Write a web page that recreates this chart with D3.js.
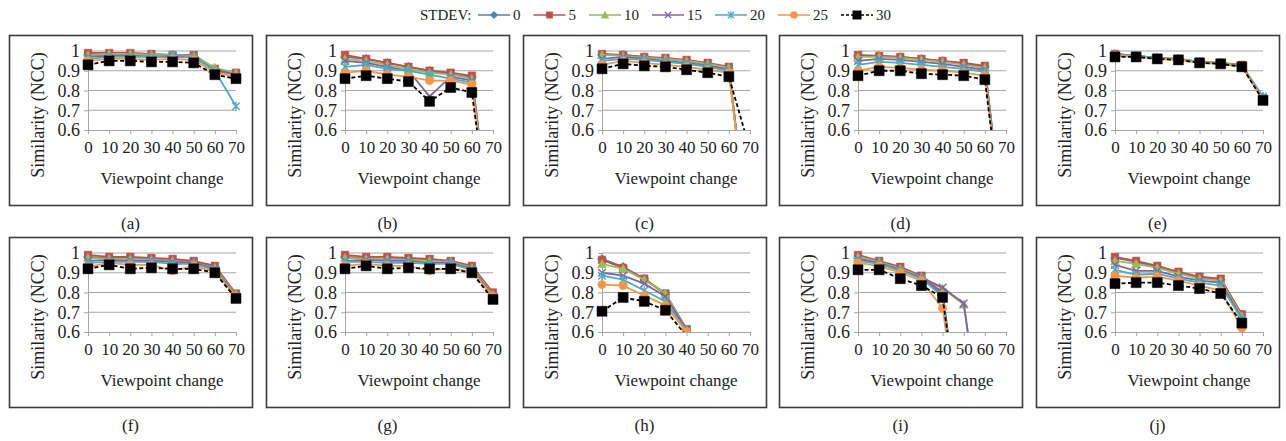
<!DOCTYPE html>
<html>
<head>
<meta charset="utf-8">
<script src="https://cdn.jsdelivr.net/npm/d3@7"></script>
<style>
  body { margin: 0; background: #fff; }
  svg { display: block; }
  svg text { font-family: "Liberation Serif", "Times New Roman", serif; }
</style>
</head>
<body>
<div id="container"></div>
<script>
const viewpoints = [0, 10, 20, 30, 40, 50, 60, 70];
const stdevs = [0, 5, 10, 15, 20, 25, 30];
const yTicks = [0.6, 0.7, 0.8, 0.9, 1];
const panelLabels = ["(a)", "(b)", "(c)", "(d)", "(e)", "(f)", "(g)", "(h)", "(i)", "(j)"];

// one row per STDEV series (0,5,10,15,20,25,30), one value per viewpoint
const panelA = [
  [0.98, 0.98, 0.98, 0.98, 0.98, 0.97, 0.91, 0.88],
  [0.99, 0.99, 0.99, 0.985, 0.98, 0.98, 0.91, 0.89],
  [0.98, 0.985, 0.985, 0.98, 0.98, 0.975, 0.915, 0.89],
  [0.97, 0.975, 0.975, 0.97, 0.97, 0.97, 0.90, 0.88],
  [0.96, 0.97, 0.97, 0.97, 0.98, 0.97, 0.90, 0.72],
  [0.95, 0.96, 0.96, 0.955, 0.96, 0.955, 0.89, 0.87],
  [0.93, 0.95, 0.95, 0.945, 0.945, 0.94, 0.88, 0.86]
];
const panelB = [
  [0.97, 0.96, 0.94, 0.92, 0.90, 0.88, 0.87, 0],
  [0.98, 0.96, 0.94, 0.92, 0.90, 0.89, 0.875, 0],
  [0.96, 0.95, 0.93, 0.91, 0.89, 0.88, 0.86, 0],
  [0.95, 0.94, 0.92, 0.90, 0.77, 0.87, 0.85, 0],
  [0.92, 0.93, 0.91, 0.90, 0.88, 0.86, 0.84, 0],
  [0.89, 0.90, 0.88, 0.87, 0.85, 0.85, 0.83, 0],
  [0.86, 0.875, 0.86, 0.845, 0.745, 0.815, 0.79, 0]
];
const panelC = [
  [0.98, 0.98, 0.97, 0.96, 0.95, 0.93, 0.91, 0],
  [0.985, 0.98, 0.97, 0.965, 0.955, 0.94, 0.92, 0],
  [0.98, 0.975, 0.965, 0.96, 0.95, 0.935, 0.915, 0],
  [0.96, 0.97, 0.96, 0.95, 0.94, 0.925, 0.905, 0],
  [0.95, 0.96, 0.955, 0.945, 0.935, 0.92, 0.90, 0],
  [0.93, 0.95, 0.94, 0.93, 0.92, 0.905, 0.89, 0],
  [0.91, 0.935, 0.925, 0.92, 0.905, 0.89, 0.87, 0.5]
];
const panelD = [
  [0.975, 0.975, 0.97, 0.96, 0.95, 0.935, 0.92, 0],
  [0.98, 0.975, 0.97, 0.96, 0.95, 0.94, 0.925, 0],
  [0.97, 0.97, 0.965, 0.955, 0.945, 0.93, 0.915, 0],
  [0.95, 0.96, 0.955, 0.945, 0.935, 0.92, 0.905, 0],
  [0.93, 0.945, 0.94, 0.93, 0.92, 0.91, 0.895, 0],
  [0.90, 0.92, 0.915, 0.905, 0.90, 0.89, 0.875, 0],
  [0.875, 0.90, 0.90, 0.885, 0.88, 0.875, 0.855, 0]
];
const panelE = [
  [0.985, 0.975, 0.965, 0.96, 0.945, 0.94, 0.925, 0.765],
  [0.985, 0.975, 0.965, 0.96, 0.945, 0.94, 0.93, 0.76],
  [0.98, 0.975, 0.965, 0.96, 0.945, 0.94, 0.925, 0.765],
  [0.98, 0.975, 0.965, 0.955, 0.945, 0.935, 0.925, 0.76],
  [0.98, 0.975, 0.965, 0.955, 0.945, 0.935, 0.925, 0.77],
  [0.975, 0.97, 0.96, 0.955, 0.94, 0.935, 0.92, 0.755],
  [0.97, 0.97, 0.96, 0.955, 0.94, 0.935, 0.92, 0.75]
];
const panelF = [
  [0.98, 0.975, 0.975, 0.97, 0.965, 0.955, 0.93, 0.79],
  [0.99, 0.98, 0.98, 0.975, 0.97, 0.96, 0.935, 0.795],
  [0.975, 0.97, 0.97, 0.965, 0.96, 0.95, 0.925, 0.79],
  [0.96, 0.965, 0.96, 0.96, 0.955, 0.95, 0.92, 0.785],
  [0.95, 0.955, 0.955, 0.955, 0.945, 0.945, 0.915, 0.78],
  [0.93, 0.95, 0.94, 0.94, 0.91, 0.935, 0.905, 0.78],
  [0.92, 0.94, 0.92, 0.925, 0.92, 0.92, 0.90, 0.77]
];
const panelG = [
  [0.98, 0.975, 0.97, 0.97, 0.965, 0.955, 0.93, 0.795],
  [0.99, 0.98, 0.98, 0.975, 0.97, 0.96, 0.935, 0.80],
  [0.975, 0.97, 0.97, 0.965, 0.96, 0.955, 0.925, 0.79],
  [0.96, 0.965, 0.96, 0.96, 0.95, 0.95, 0.92, 0.785],
  [0.955, 0.955, 0.95, 0.95, 0.945, 0.945, 0.915, 0.78],
  [0.935, 0.945, 0.935, 0.935, 0.91, 0.925, 0.905, 0.78],
  [0.92, 0.935, 0.92, 0.925, 0.92, 0.92, 0.90, 0.765]
];
const panelH = [
  [0.97, 0.93, 0.87, 0.79, 0.61, null, null, null],
  [0.965, 0.925, 0.87, 0.795, 0.615, null, null, null],
  [0.945, 0.92, 0.865, 0.795, 0.61, null, null, null],
  [0.90, 0.885, 0.845, 0.78, 0.61, null, null, null],
  [0.885, 0.865, 0.81, 0.755, 0.605, null, null, null],
  [0.84, 0.835, 0.785, 0.735, 0.60, null, null, null],
  [0.705, 0.775, 0.755, 0.71, 0.58, null, null, null]
];
const panelI = [
  [0.975, 0.95, 0.92, 0.875, 0.79, 0, null, null],
  [0.99, 0.96, 0.93, 0.885, 0.80, 0, null, null],
  [0.98, 0.955, 0.92, 0.88, 0.82, 0.74, 0, null],
  [0.97, 0.95, 0.915, 0.875, 0.825, 0.745, 0, null],
  [0.96, 0.945, 0.91, 0.87, 0.78, 0, null, null],
  [0.95, 0.935, 0.90, 0.86, 0.72, 0, null, null],
  [0.915, 0.915, 0.87, 0.835, 0.775, 0, null, null]
];
const panelJ = [
  [0.975, 0.955, 0.93, 0.90, 0.875, 0.865, 0.685, null],
  [0.98, 0.96, 0.935, 0.905, 0.88, 0.87, 0.69, null],
  [0.96, 0.945, 0.925, 0.895, 0.87, 0.86, 0.68, null],
  [0.94, 0.91, 0.91, 0.88, 0.86, 0.85, 0.67, null],
  [0.915, 0.89, 0.895, 0.87, 0.85, 0.835, 0.665, null],
  [0.885, 0.875, 0.88, 0.86, 0.835, 0.81, 0.62, null],
  [0.845, 0.85, 0.85, 0.835, 0.82, 0.795, 0.645, null]
];
const panels = [panelA, panelB, panelC, panelD, panelE, panelF, panelG, panelH, panelI, panelJ];

const color = d3.scaleOrdinal()
  .domain(stdevs)
  .range(["#4F81BD", "#C0504D", "#9BBB59", "#8064A2", "#4BACC6", "#F79646", "#000000"]);
const shape = d3.scaleOrdinal()
  .domain(stdevs)
  .range(["diamond", "square", "triangle", "x", "star", "circle", "bigsquare"]);

function markerPath(kind) {
  const s = 3.8;
  switch (kind) {
    case "diamond": return `M0,${-s - 0.7}L${s + 0.7},0L0,${s + 0.7}L${-s - 0.7},0Z`;
    case "square": return `M${-s},${-s}H${s}V${s}H${-s}Z`;
    case "bigsquare": return `M-5,-5H5V5H-5Z`;
    case "triangle": return `M0,${-s - 0.7}L${s + 0.7},${s}L${-s - 0.7},${s}Z`;
    case "x": return `M${-s},${-s}L${s},${s}M${-s},${s}L${s},${-s}`;
    case "star": return `M${-s},${-s}L${s},${s}M${-s},${s}L${s},${-s}M0,${-s - 0.7}V${s + 0.7}`;
    case "circle": return d3.symbol(d3.symbolCircle, 56)();
  }
}
const strokeOnly = k => k === "x" || k === "star";

const svg = d3.select("#container").append("svg")
  .attr("width", 1286)
  .attr("height", 441);

// legend
const legend = svg.append("g").attr("transform", "translate(420,15)");
legend.append("text")
  .attr("x", 0).attr("dy", "0.35em")
  .attr("font-size", 15).attr("fill", "#222")
  .text("STDEV:");
let lx = 58;
stdevs.forEach(s => {
  const k = shape(s);
  legend.append("line")
    .attr("x1", lx).attr("x2", lx + 32)
    .attr("stroke", color(s)).attr("stroke-width", 1.5)
    .attr("stroke-dasharray", s === 30 ? "3,2" : null);
  legend.append("path")
    .attr("transform", `translate(${lx + 16},0) scale(0.85)`)
    .attr("d", markerPath(k))
    .attr("fill", strokeOnly(k) ? "none" : color(s))
    .attr("stroke", color(s)).attr("stroke-width", strokeOnly(k) ? 1.4 : 0.5);
  const t = legend.append("text")
    .attr("x", lx + 35).attr("dy", "0.35em")
    .attr("font-size", 15).attr("fill", "#222")
    .text(s);
  lx += 35 + t.node().getComputedTextLength() + 13;
});

const boxW = 243, boxH = 170;
const rowTop = [35, 237];
const plotL = 79, plotR = 227, plotT = 16, plotB = 95;

const x = d3.scalePoint().domain(viewpoints).range([plotL, plotR]);
const y = d3.scaleLinear().domain([0.6, 1]).range([plotB, plotT]);

panels.forEach((panel, pi) => {
  const col = pi % 5, row = Math.floor(pi / 5);
  const bx = Math.round(9 + col * 256.75), by = rowTop[row];
  const g = svg.append("g").attr("transform", `translate(${bx},${by})`);

  g.append("rect")
    .attr("x", 0.5).attr("y", 0.5)
    .attr("width", boxW).attr("height", boxH)
    .attr("fill", "#fff")
    .attr("stroke", "#3c3c3c").attr("stroke-width", 1.6);

  // gridlines
  g.selectAll(".grid")
    .data(yTicks.slice(1))
    .enter().append("line")
    .attr("x1", plotL).attr("x2", plotR)
    .attr("y1", d => y(d)).attr("y2", d => y(d))
    .attr("stroke", "#a6a6a6").attr("stroke-width", 1);

  // y axis
  const yAxis = g.append("g").attr("transform", `translate(${plotL},0)`)
    .call(d3.axisLeft(y).tickValues(yTicks).tickSize(4).tickPadding(4)
      .tickFormat(d => d === 1 ? "1" : d3.format(".1f")(d)));
  yAxis.attr("font-family", null);
  yAxis.select(".domain").attr("stroke", "#a6a6a6");
  yAxis.selectAll(".tick line").attr("stroke", "#a6a6a6");
  yAxis.selectAll("text").attr("font-size", 18).attr("fill", "#222");

  // x axis
  const xAxis = g.append("g").attr("transform", `translate(0,${plotB})`)
    .call(d3.axisBottom(x).tickSize(4).tickPadding(7).tickSizeOuter(0));
  xAxis.attr("font-family", null);
  xAxis.select(".domain").attr("stroke", "#a6a6a6");
  xAxis.selectAll(".tick line").attr("stroke", "#a6a6a6");
  xAxis.selectAll("text").attr("font-size", 17).attr("fill", "#222");

  g.append("text")
    .attr("transform", `translate(29,80) rotate(-90)`)
    .attr("text-anchor", "middle").attr("dy", "0.35em")
    .attr("font-size", 18).attr("fill", "#222")
    .text("Similarity (NCC)");

  g.append("text")
    .attr("x", (plotL + plotR) / 2).attr("y", plotB + 48)
    .attr("text-anchor", "middle").attr("dy", "0.35em")
    .attr("font-size", 17).attr("fill", "#222")
    .text("Viewpoint change");

  g.append("text")
    .attr("x", boxW / 2).attr("y", boxH + 18)
    .attr("text-anchor", "middle").attr("dy", "0.35em")
    .attr("font-size", 17).attr("fill", "#222")
    .text(panelLabels[pi]);

  const clipId = "clip" + pi;
  g.append("clipPath").attr("id", clipId)
    .append("rect")
    .attr("x", plotL - 8).attr("y", plotT - 8)
    .attr("width", plotR - plotL + 16).attr("height", plotB - plotT + 8);

  const line = d3.line()
    .defined(d => d.v !== null)
    .x(d => x(d.vp))
    .y(d => y(d.v));

  const plot = g.append("g").attr("clip-path", `url(#${clipId})`);

  panel.forEach((vals, si) => {
    const s = stdevs[si];
    const pts = vals.map((v, i) => ({ vp: viewpoints[i], v }));
    plot.append("path")
      .datum(pts)
      .attr("d", line)
      .attr("fill", "none")
      .attr("stroke", color(s))
      .attr("stroke-width", 1.8)
      .attr("stroke-dasharray", s === 30 ? "4,2.5" : null);

    const k = shape(s);
    plot.selectAll(null)
      .data(pts.filter(d => d.v !== null && d.v >= 0.6))
      .enter().append("path")
      .attr("transform", d => `translate(${x(d.vp)},${y(d.v)})`)
      .attr("d", markerPath(k))
      .attr("fill", strokeOnly(k) ? "none" : color(s))
      .attr("stroke", color(s))
      .attr("stroke-width", strokeOnly(k) ? 1.4 : 0.5);
  });
});
</script>
</body>
</html>
